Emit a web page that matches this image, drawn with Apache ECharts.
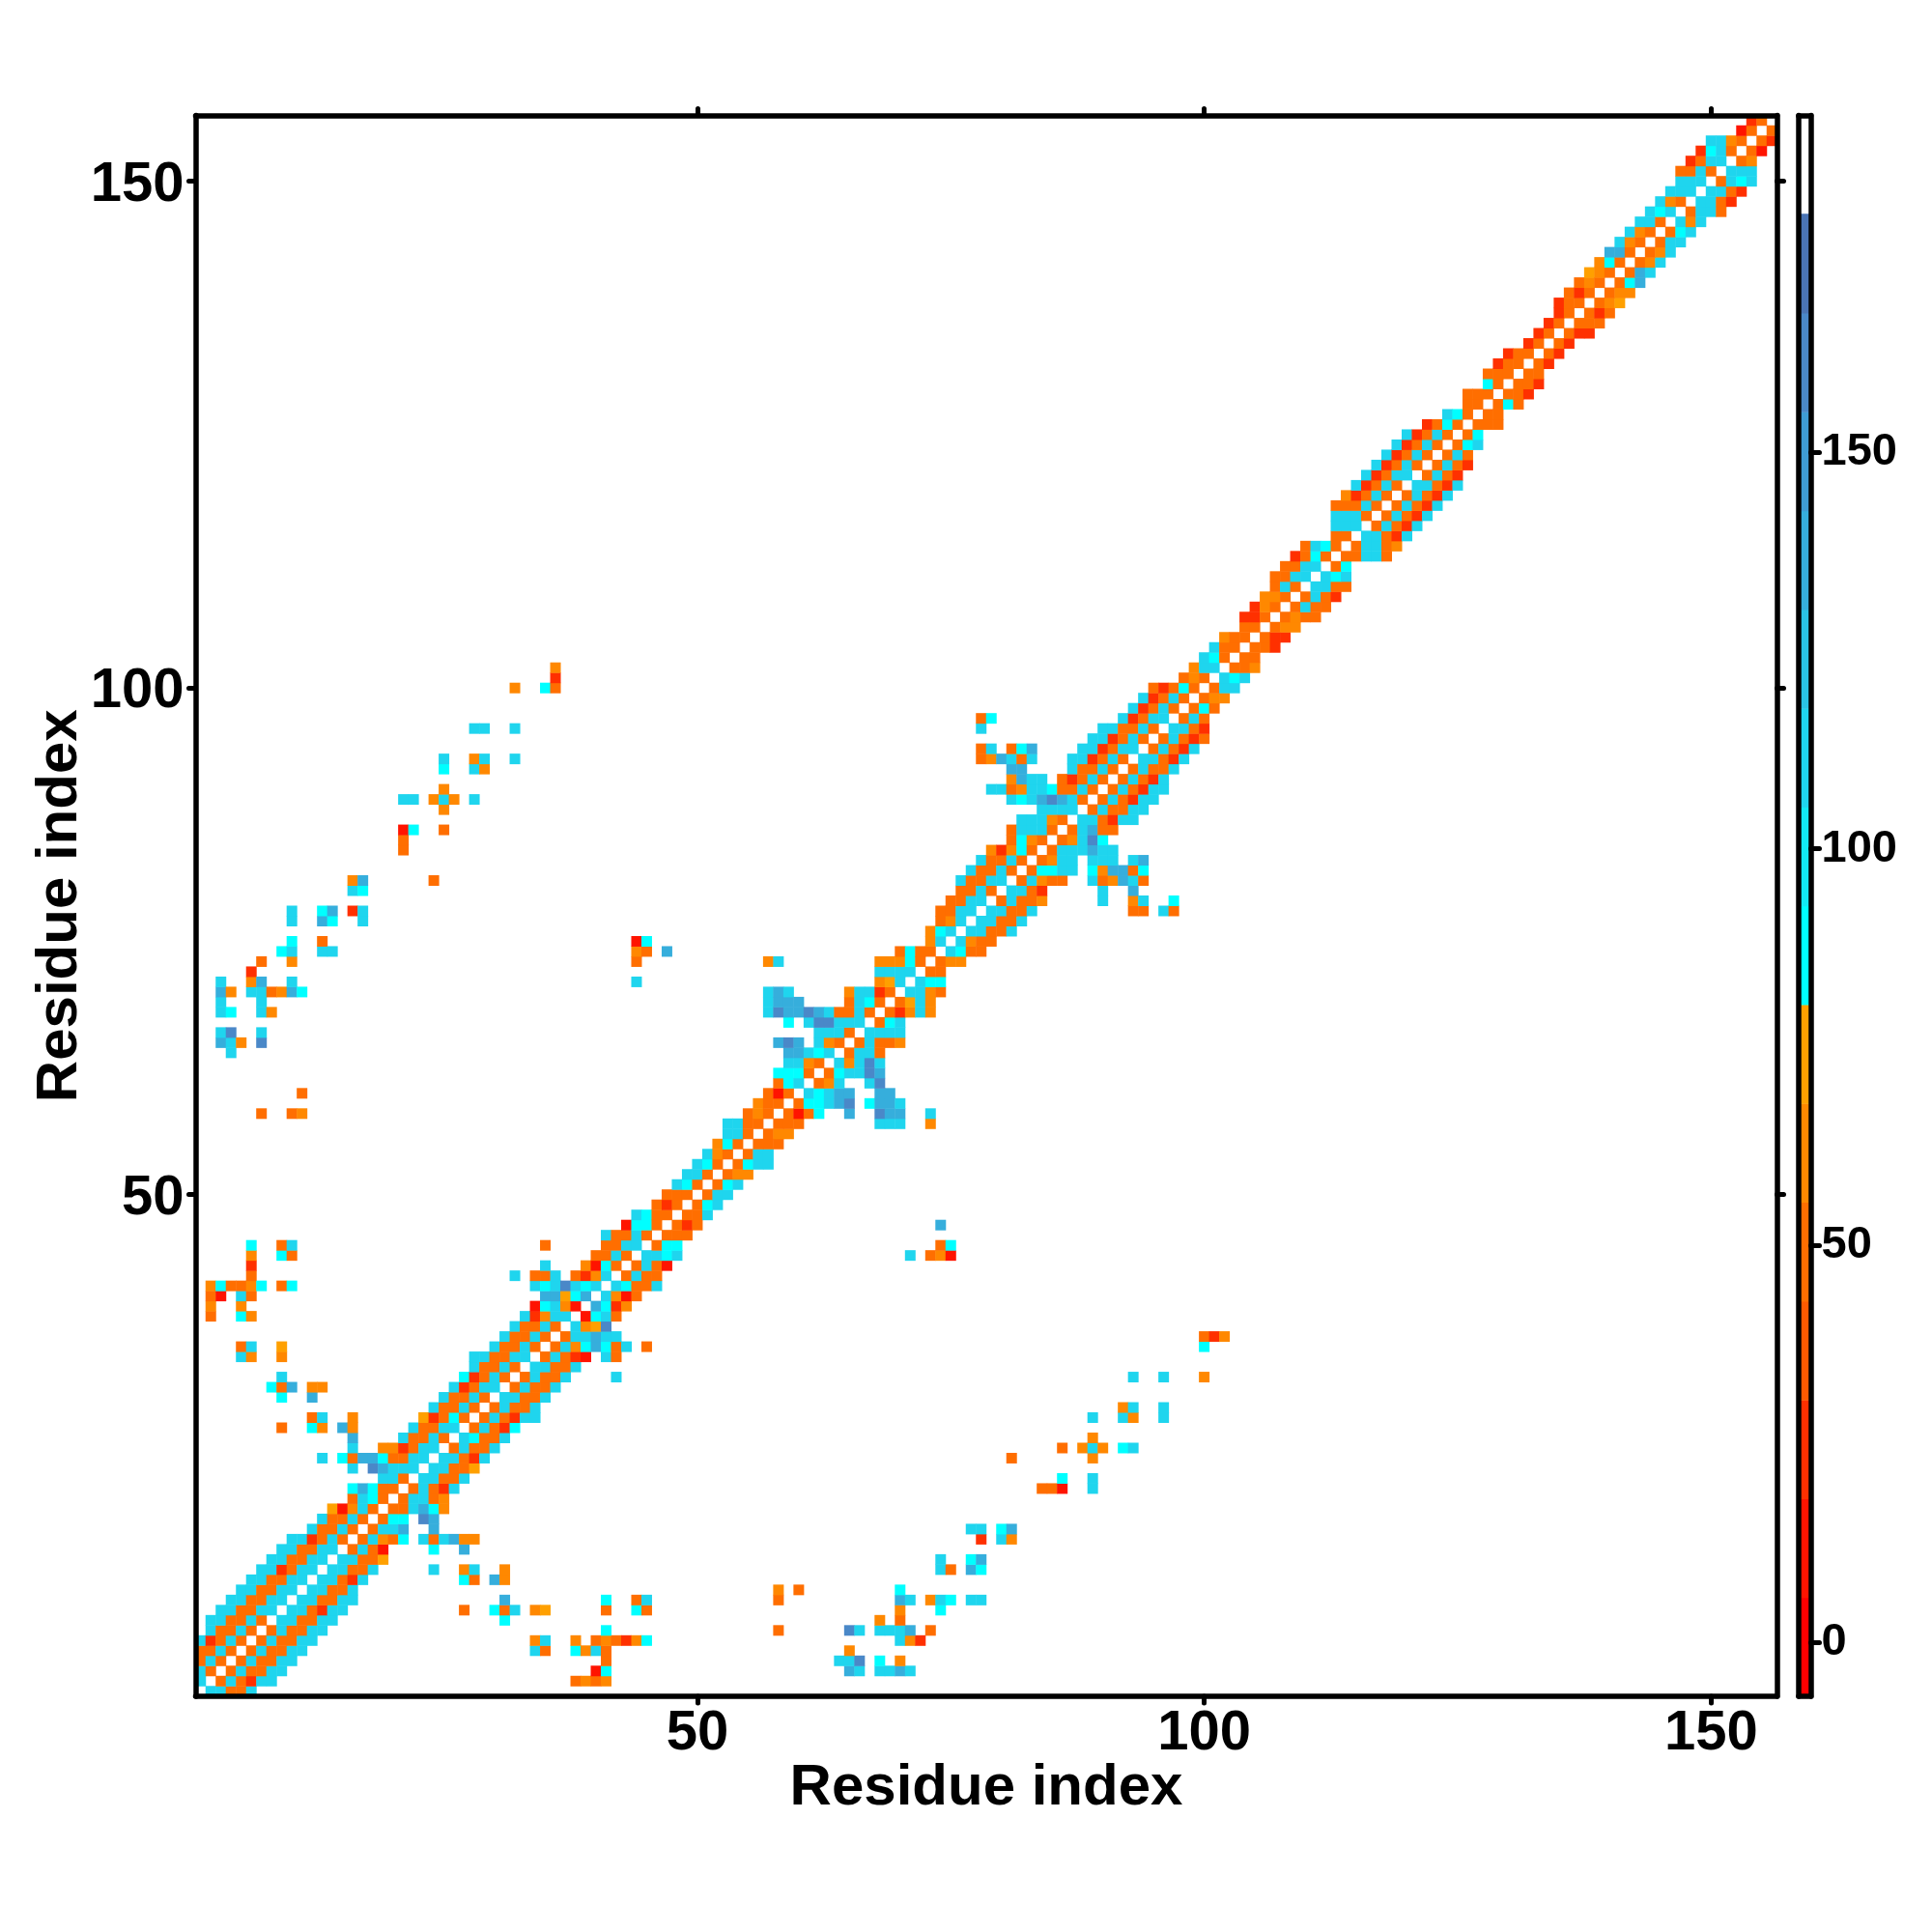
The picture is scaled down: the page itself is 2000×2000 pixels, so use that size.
<!DOCTYPE html>
<html>
<head>
<meta charset="utf-8">
<style>
body{margin:0;background:#fff;}
#chart{width:2000px;height:2000px;}
</style>
</head>
<body>
<div id="chart"></div>
<script src="https://cdn.jsdelivr.net/npm/echarts@6/dist/echarts.min.js"></script>
<script type="text/javascript">
// colour bar bins, lower edge to upper edge
var binEdges = [-6.8,5.65,18.1,30.55,43,55.45,67.9,80.35,92.8,105.25,117.7,130.15,142.6,155.05,167.5,180];
var binColors = ['#ff0000','#ff1400','#ff3000','#ff5a00','#ff6e00','#ff8800','#ffa000','#00ffff','#12eaf4','#1fd5ee','#2ac4e6','#36aedc','#3f9cd4','#4a88c8','#4a74b4'];
var barTicks = [0,50,100,150];

// value read for each letter used in the contact list
var levels = {a:12,b:25,c:49,d:61,e:74,f:87,g:111,h:136,i:161};

var residueCount = 156;

// [row, first column, letters] for the half below the diagonal, '.' = no contact
var contacts = [
[1,2,'ggccg'],
[2,3,'cgcbgg'],[2,38,'cdcd'],
[3,4,'cgccgg'],[3,40,'af'],[3,65,'hg.gghg'],
[4,5,'cgccgg'],[4,41,'c'],[4,64,'ggi.f.d'],
[5,6,'cgccgg'],[5,34,'gc'],[5,38,'fdgc'],[5,65,'d'],
[6,7,'cgccgg'],[6,34,'dg'],[6,38,'d.cdcbdf'],[6,70,'gdb'],
[7,8,'cgccgg'],[7,41,'f'],[7,58,'c'],[7,65,'ig.gggh.c'],
[8,9,'ggccgg'],[8,31,'f'],[8,68,'d.c'],
[9,10,'ggcbgg'],[9,27,'c'],[9,30,'fcg'],[9,34,'de'],[9,41,'c'],[9,44,'fc'],[9,70,'d'],[9,74,'f'],
[10,11,'ggccgg'],[10,31,'h'],[10,41,'f'],[10,44,'cg'],[10,58,'c'],[10,70,'hg'],[10,73,'dgf'],[10,77,'gg'],
[11,12,'ggccg'],[11,58,'d'],[11,60,'c'],[11,70,'f'],
[12,13,'ggcbg'],[12,27,'fc'],[12,30,'hd'],
[13,14,'ggccg'],[13,24,'g'],[13,27,'dg'],[13,31,'d'],[13,74,'gc'],[13,77,'hf'],
[14,15,'ggcce'],[14,74,'g'],[14,77,'fh'],
[15,16,'cgca'],[15,24,'f'],[15,27,'h'],
[16,17,'cgdcf.gcghdd'],[16,78,'b'],[16,80,'gd'],
[17,18,'cggh..h'],[17,77,'gg'],[17,80,'fh'],
[18,19,'cff.ih'],
[19,20,'ccghfd'],
[20,21,'cggcd'],
[21,22,'cgcbg'],[21,84,'cca'],[21,89,'g'],
[22,23,'ggccg'],[22,86,'f'],[22,89,'g'],
[23,24,'ggcce'],
[24,25,'ggcbg'],[24,81,'c'],[24,89,'d'],
[25,26,'cgccg'],[25,86,'c'],[25,88,'dgd'],[25,92,'fg'],
[26,27,'gfccg'],[26,89,'d'],
[27,28,'cgcbf'],
[28,29,'cgcbgg'],[28,89,'g'],[28,92,'gd'],[28,96,'g'],
[29,30,'cgccg'],[29,92,'dg'],[29,96,'g'],
[30,31,'ggccg'],
[31,32,'cgccg'],
[32,33,'cgccg'],[32,42,'g'],[32,93,'g'],[32,96,'g'],[32,100,'d'],
[33,34,'ggccg'],
[34,35,'cgcba.gc'],
[35,36,'cgdfhfcg.c'],[35,100,'f'],
[36,37,'cgghgg'],[36,100,'cbd'],
[37,38,'gdei'],
[38,39,'afgc'],
[39,40,'hfbd'],
[40,41,'gdac'],
[41,42,'gfccg'],
[42,43,'cgcc'],
[43,44,'cgca'],
[44,45,'ggfg'],[44,71,'g'],[44,73,'cda'],
[45,46,'cff'],[45,74,'cf'],
[46,47,'ccc'],
[47,48,'cbc'],[47,74,'h'],
[48,49,'ccg'],
[49,50,'cfg'],
[50,51,'cgg'],
[51,52,'cfg'],
[52,53,'cdd'],
[53,54,'cfgg'],
[54,55,'cgg'],
[55,56,'ccc'],
[56,57,'cdd'],
[57,58,'ccc'],[57,68,'ggg'],[57,73,'d'],
[58,59,'cacf'],[58,65,'h'],[58,68,'ihh'],[58,73,'g'],
[59,60,'cffghi.fhhg'],
[60,61,'gfghh'],[60,68,'hh'],
[61,62,'cdg..gi'],
[62,63,'cfggih'],
[63,64,'gdgig'],
[64,65,'cggc'],
[65,66,'cgccd'],
[66,67,'gggg'],
[67,68,'cfg'],
[68,69,'cbdgd'],
[69,70,'cegd'],
[70,71,'ggdc'],
[71,72,'gff'],
[72,73,'cc'],
[73,74,'cdd'],
[74,75,'gfcc'],
[75,76,'gdcc'],
[76,77,'ggccg'],
[77,78,'ggccg'],
[78,79,'ggccg'],[78,93,'cc'],[78,96,'gc'],
[79,80,'cgccd'],[79,90,'g'],[79,93,'dg'],[79,97,'f'],
[80,81,'ggcb'],[80,90,'g'],[80,93,'h'],
[81,82,'cgdcc'],[81,89,'gcdhgc'],
[82,83,'cffgg.fdhhcf'],
[83,84,'cdgg.ggg.gh'],
[84,85,'cggghgg'],
[85,86,'cdgif'],
[86,87,'cghcc'],
[87,88,'ggcbgg'],
[88,89,'cgccgg'],
[89,90,'cgcbgg'],
[90,91,'cgcbgg'],
[91,92,'cgcbg'],
[92,93,'cgccg'],
[93,94,'ggcbg'],
[94,95,'cgcbg'],
[95,96,'cgcbc'],
[96,97,'ggcb'],
[97,98,'cgc'],
[98,99,'cfc'],
[99,100,'cdd'],
[100,101,'cgg'],
[101,102,'gfg'],
[102,103,'ccd'],
[103,104,'cc'],
[104,105,'ccb'],
[105,106,'cbb'],
[106,107,'cdd'],
[107,108,'cdcc'],
[108,109,'cgcc'],
[109,110,'cgcb'],
[110,111,'ggcc'],
[111,112,'gfg'],
[112,113,'cf'],
[113,114,'ccggc'],
[114,115,'cggcd'],
[115,116,'ggcbg'],
[116,117,'cgcbg'],
[117,118,'cgcbg'],
[118,119,'cgcbg'],
[119,120,'cgcbg'],
[120,121,'ggcbg'],
[121,122,'cgcb'],
[122,123,'cgcb'],
[123,124,'cgc'],
[124,125,'cfg'],
[125,126,'cf'],
[126,127,'ccc'],
[127,128,'cc'],
[128,129,'cfc'],
[129,130,'ccb'],
[130,131,'ccb'],
[131,132,'cc'],
[132,133,'cb'],
[133,134,'cb'],
[134,135,'cb'],
[135,136,'cbb'],
[136,137,'ccc'],
[137,138,'cbc'],
[138,139,'cde'],
[139,140,'cdd'],
[140,141,'cfh'],
[141,142,'chg'],
[142,143,'cdg'],
[143,144,'cdg'],
[144,145,'cgg'],
[145,146,'cfg'],
[146,147,'gdg'],
[147,148,'cggc'],
[148,149,'ggcb'],
[149,150,'ggcb'],
[150,151,'cgfg'],
[151,152,'ggg'],
[152,153,'cd'],
[153,154,'ca'],
[154,155,'cb'],
[155,156,'c']
];

var residues = [];
for (var n = 1; n <= residueCount; n++) residues.push(String(n));

// the matrix is symmetric, so every contact goes in twice
var cells = [];
contacts.forEach(function (c) {
	for (var s = 0; s < c[2].length; s++) {
		var ch = c[2].charAt(s);
		if (ch === '.') continue;
		var col = c[1] + s;
		cells.push([col - 1, c[0] - 1, levels[ch]]);
		cells.push([c[0] - 1, col - 1, levels[ch]]);
	}
});

var pieces = [], barData = [];
for (var b = 0; b < binColors.length; b++) {
	pieces.push({gte: binEdges[b], lt: binEdges[b + 1], color: binColors[b]});
	barData.push([binEdges[b], binEdges[b + 1], b]);
}

var font = 'Liberation Sans';
var frame = {show: true, onZero: false, lineStyle: {color: '#000', width: 5.5, cap: 'round'}};
var tick = {show: true, length: 7, inside: false, alignWithLabel: true, lineStyle: {color: '#000', width: 5, cap: 'round'},
	interval: function (i) { return (i + 1) % 50 === 0; }};
var label = {show: true, color: '#000', fontFamily: font, fontWeight: 'bold', fontSize: 58,
	interval: function (i) { return (i + 1) % 50 === 0; }};
var title = {color: '#000', fontFamily: font, fontWeight: 'bold', fontSize: 60};

var chart = echarts.init(document.getElementById('chart'), null, {renderer: 'canvas'});
chart.setOption({
	animation: false,
	backgroundColor: '#fff',
	grid: [
		{left: 202.5, top: 119.5, width: 1637, height: 1636.5, outerBoundsMode: 'none'},
		{left: 1862, top: 119.5, width: 12.5, height: 1636.5, outerBoundsMode: 'none'}
	],
	xAxis: [
		{gridIndex: 0, type: 'category', position: 'bottom', data: residues, z: 5, axisLine: frame,
			axisTick: tick, axisLabel: Object.assign({margin: 10}, label), splitLine: {show: false},
			name: 'Residue index', nameLocation: 'middle', nameGap: 65, nameMoveOverlap: false, nameTextStyle: title},
		{gridIndex: 0, type: 'category', position: 'top', data: residues, z: 5, axisLine: frame,
			axisTick: tick, axisLabel: {show: false}, splitLine: {show: false}},
		{gridIndex: 1, type: 'value', position: 'bottom', min: 0, max: 1, z: 5, axisLine: frame,
			axisTick: {show: false}, axisLabel: {show: false}, splitLine: {show: false}},
		{gridIndex: 1, type: 'value', position: 'top', min: 0, max: 1, z: 5, axisLine: frame,
			axisTick: {show: false}, axisLabel: {show: false}, splitLine: {show: false}}
	],
	yAxis: [
		{gridIndex: 0, type: 'category', position: 'left', data: residues, z: 5, axisLine: frame,
			axisTick: tick, axisLabel: Object.assign({margin: 12, verticalAlign: 'top', lineHeight: 8}, label), splitLine: {show: false},
			name: 'Residue index', nameLocation: 'middle', nameGap: 110, nameMoveOverlap: false, nameRotate: 90, nameTextStyle: title},
		{gridIndex: 0, type: 'category', position: 'right', data: residues, z: 5, axisLine: frame,
			axisTick: tick, axisLabel: {show: false}, splitLine: {show: false}},
		{gridIndex: 1, type: 'value', position: 'right', min: -6.8, max: 192.4, z: 5, axisLine: frame,
			axisTick: {show: true, length: 9, customValues: barTicks, lineStyle: {color: '#000', width: 5, cap: 'round'}},
			axisLabel: {show: true, margin: 11, customValues: barTicks, color: '#000', fontFamily: font, fontWeight: 'bold', fontSize: 47},
			splitLine: {show: false}},
		{gridIndex: 1, type: 'value', position: 'left', min: -6.8, max: 192.4, z: 5, axisLine: frame,
			axisTick: {show: false}, axisLabel: {show: false}, splitLine: {show: false}}
	],
	visualMap: {type: 'piecewise', show: false, seriesIndex: 0, dimension: 2, pieces: pieces},
	series: [
		{type: 'heatmap', xAxisIndex: 0, yAxisIndex: 0, data: cells, progressive: 0, emphasis: {disabled: true}},
		{type: 'custom', xAxisIndex: 2, yAxisIndex: 2, data: barData, silent: true, encode: {y: [0, 1]},
			renderItem: function (params, api) {
				var lo = api.coord([0, api.value(0)]);
				var hi = api.coord([1, api.value(1)]);
				return {type: 'rect',
					shape: {x: lo[0], y: hi[1], width: hi[0] - lo[0], height: lo[1] - hi[1] + 0.5},
					style: {fill: binColors[api.value(2)]}};
			}}
	]
});
</script>
</body>
</html>
